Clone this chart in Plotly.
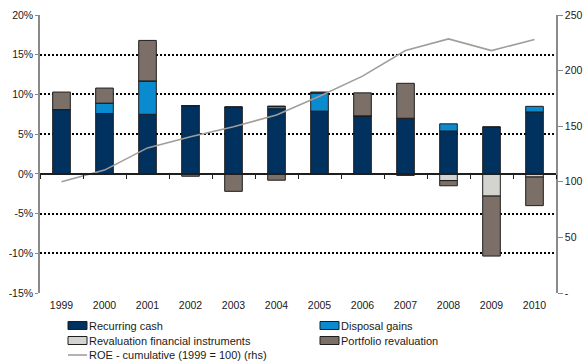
import plotly.graph_objects as go

years = ["1999", "2000", "2001", "2002", "2003", "2004",
         "2005", "2006", "2007", "2008", "2009", "2010"]

# Return components, % of equity
recurring_cash = [8.1, 7.6, 7.5, 8.6, 8.4, 8.2, 7.9, 7.3, 7.0, 5.4, 5.9, 7.8]
disposal_gains = [0.0, 1.3, 4.2, 0.0, 0.0, 0.3, 2.3, 0.0, 0.0, 0.9, 0.0, 0.7]
revaluation_fin = [0.0, 0.0, 0.0, 0.0, 0.0, 0.0, 0.0, 0.0, -0.2, -0.85, -2.8, -0.4]
portfolio_reval = [2.2, 1.9, 5.1, -0.3, -2.2, -0.8, 0.1, 2.9, 4.4, -0.65, -7.55, -3.6]

# Cumulative ROE index (1999 = 100), right-hand scale
roe_cumulative = [100, 110.5, 130.5, 140.5, 149.5, 160, 177, 195, 218, 228.5, 218, 228]

left_ticks = [-15, -10, -5, 0, 5, 10, 15, 20]
left_labels = ["-15%", "-10%", "-5%", "0%", "5%", "10%", "15%", "20%"]
right_ticks = [0, 50, 100, 150, 200, 250]
right_labels = ["-", "50", "100", "150", "200", "250"]

C_RECUR = "#00315f"
C_DISP = "#0a8bd0"
C_REVAL = "#d3d3cf"
C_PORT = "#7b6f67"
C_LINE = "#a29d99"
OUTLINE = "#1e1e1e"
FONT = "Arial"

W, H = 584, 363
ML, MR, MT, MB = 40, 28, 15, 70
PW, PH = W - ML - MR, H - MT - MB

fig = go.Figure()

bar_series = [
    ("Recurring cash", recurring_cash, C_RECUR),
    ("Disposal gains", disposal_gains, C_DISP),
    ("Revaluation financial instruments", revaluation_fin, C_REVAL),
    ("Portfolio revaluation", portfolio_reval, C_PORT),
]
for name, vals, col in bar_series:
    fig.add_trace(go.Bar(
        x=years, y=vals, name=name, showlegend=False,
        marker=dict(color=col, line=dict(color=OUTLINE, width=1)),
        xaxis="x", yaxis="y",
    ))

fig.add_trace(go.Scatter(
    x=years, y=roe_cumulative, name="ROE - cumulative (1999 = 100) (rhs)",
    mode="lines", line=dict(color=C_LINE, width=1.6), showlegend=False,
    xaxis="x2", yaxis="y2",
))

fig.update_layout(
    width=W, height=H,
    margin=dict(l=ML, r=MR, t=MT, b=MB, pad=0, autoexpand=False),
    paper_bgcolor="white", plot_bgcolor="white",
    barmode="relative", bargap=0.59,
    font=dict(family=FONT, size=10.5, color="#1a1a1a"),
    xaxis=dict(
        type="category", range=[-0.5, 11.5], showline=False, ticks="",
        showgrid=False, zeroline=False, ticklabelstandoff=4,
        fixedrange=True, automargin=False,
    ),
    xaxis2=dict(
        type="category", range=[-0.5, 11.5], overlaying="x",
        anchor="free", position=15 / 35, showticklabels=False,
        ticks="outside", ticklen=4, tickcolor=OUTLINE, tickson="boundaries",
        showline=True, linecolor=OUTLINE, linewidth=1.5,
        showgrid=False, zeroline=False, automargin=False,
    ),
    yaxis=dict(
        range=[-15, 20], tickvals=left_ticks, ticktext=left_labels,
        showgrid=True, gridcolor="#000000", gridwidth=1.6, griddash="2px,2px",
        zeroline=False, showline=True, linecolor="#8a8a8a", linewidth=1.5,
        ticks="outside", ticklen=3, tickcolor="#8a8a8a", automargin=False,
    ),
    yaxis2=dict(
        range=[0, 250], tickvals=right_ticks, ticktext=right_labels,
        overlaying="y", side="right", anchor="x",
        showgrid=False, zeroline=False, showline=True,
        linecolor="#8a8a8a", linewidth=1.5,
        ticks="outside", ticklen=5, tickcolor="#8a8a8a",
        automargin=False,
    ),
)


def px_x(px):
    return (px - ML) / PW


def px_y(py):
    return (H - MB - py) / PH


# Legend, laid out in two columns below the plot
legend_items = [
    ("Recurring cash", C_RECUR, "box", 68, 325.5),
    ("Disposal gains", C_DISP, "box", 320, 325.5),
    ("Revaluation financial instruments", C_REVAL, "box", 68, 340.5),
    ("Portfolio revaluation", C_PORT, "box", 320, 340.5),
    ("ROE - cumulative (1999 = 100) (rhs)", C_LINE, "line", 68, 355),
]
for label, col, kind, x0, yc in legend_items:
    if kind == "box":
        fig.add_shape(type="rect", xref="paper", yref="paper",
                      x0=px_x(x0), x1=px_x(x0 + 19),
                      y0=px_y(yc + 4), y1=px_y(yc - 4),
                      fillcolor=col, line=dict(color=OUTLINE, width=1))
    else:
        fig.add_shape(type="line", xref="paper", yref="paper",
                      x0=px_x(x0), x1=px_x(x0 + 19),
                      y0=px_y(yc), y1=px_y(yc),
                      line=dict(color=col, width=1.6))
    fig.add_annotation(text=label, xref="paper", yref="paper",
                       x=px_x(x0 + 19), y=px_y(yc), xanchor="left",
                       yanchor="middle", showarrow=False,
                       font=dict(size=11, color="#1a1a1a"))

fig.write_html("out.html")
